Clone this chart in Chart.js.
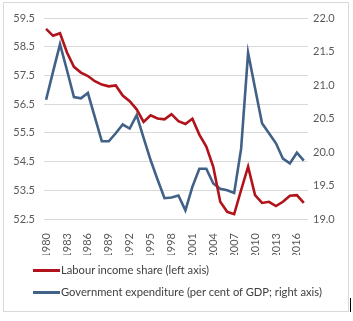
<!DOCTYPE html>
<html>
<head>
<meta charset="utf-8">
<script src="https://cdn.jsdelivr.net/npm/chart.js@4"></script>
<style>
  html, body { margin: 0; padding: 0; background: #fff; }
  #wrap { position: relative; width: 353px; height: 321px; overflow: hidden; }
  #frame { position: absolute; left: 3px; top: 2px; width: 344px; height: 308px; border: 1px solid #d9d9d9; }
  #chart { position: absolute; left: 0; top: 0; }
  .leg { position: absolute; left: 33px; font: 11.2px Lato, "Open Sans", sans-serif; color: #404040; white-space: nowrap; }
  .leg i { display: inline-block; width: 27px; height: 3px; vertical-align: middle; margin-right: 1px; position: relative; top: -1px; }
  #cursor { position: absolute; left: 350px; top: 298px; width: 1px; height: 14px; background: #000; }
</style>
</head>
<body>
<div id="wrap">
  <div id="frame"></div>
  <canvas id="chart" width="353" height="321"></canvas>
  <div class="leg" style="top:263px"><i style="background:#b2131b"></i>Labour income share (left axis)</div>
  <div class="leg" style="top:285px"><i style="background:#416187"></i>Government expenditure (per cent of GDP; right axis)</div>
  <div id="cursor"></div>
</div>
<script>
  var YEARS = [];
  for (var y = 1980; y <= 2017; y++) YEARS.push(y);

  // labour income share, % (left axis)
  var LABOUR = [59.12, 58.88, 58.97, 58.30, 57.80, 57.60, 57.48, 57.30, 57.18, 57.12,
                57.15, 56.80, 56.60, 56.32, 55.88, 56.11, 56.00, 55.97, 56.15, 55.91,
                55.81, 55.99, 55.44, 55.02, 54.32, 53.10, 52.75, 52.67, 53.51, 54.32,
                53.33, 53.06, 53.10, 52.95, 53.10, 53.31, 53.33, 53.06];

  // government expenditure, % of GDP (right axis)
  var GOVT = [20.78, 21.20, 21.61, 21.22, 20.82, 20.80, 20.88, 20.52, 20.16, 20.16,
              20.28, 20.41, 20.35, 20.55, 20.21, 19.88, 19.59, 19.31, 19.32, 19.35,
              19.13, 19.48, 19.75, 19.75, 19.53, 19.45, 19.43, 19.39, 20.05, 21.48,
              20.95, 20.43, 20.28, 20.13, 19.90, 19.83, 19.99, 19.87];

  var X_TICKS = [1980, 1983, 1986, 1989, 1992, 1995, 1998, 2001, 2004, 2007, 2010, 2013, 2016];
  var LEFT_TICKS = [52.5, 53.5, 54.5, 55.5, 56.5, 57.5, 58.5, 59.5];
  var RIGHT_TICKS = [19.0, 19.5, 20.0, 20.5, 21.0, 21.5, 22.0];

  function pts(vals) {
    return vals.map(function (v, i) { return { x: YEARS[i], y: v }; });
  }
  function fixedTicks(list) {
    return function (scale) { scale.ticks = list.map(function (v) { return { value: v }; }); };
  }

  var tickFont = { family: 'Lato, "Open Sans", sans-serif', size: 11 };

  new Chart(document.getElementById('chart').getContext('2d'), {
    type: 'line',
    data: {
      datasets: [
        {
          label: 'Labour income share (left axis)',
          data: pts(LABOUR),
          yAxisID: 'y',
          borderColor: '#b2131b',
          borderWidth: 2.6,
          pointRadius: 0,
          tension: 0
        },
        {
          label: 'Government expenditure (per cent of GDP; right axis)',
          data: pts(GOVT),
          yAxisID: 'y1',
          borderColor: '#416187',
          borderWidth: 2.6,
          pointRadius: 0,
          tension: 0
        }
      ]
    },
    options: {
      responsive: false,
      animation: false,
      layout: { padding: { top: 18, left: 0, right: 0, bottom: 66 } },
      plugins: { legend: { display: false }, tooltip: { enabled: false } },
      scales: {
        x: {
          type: 'linear',
          min: 1979.7,
          max: 2017.6,
          afterBuildTicks: fixedTicks(X_TICKS),
          afterFit: function (s) { s.height = 36; },
          grid: { display: false },
          border: { display: false },
          ticks: {
            minRotation: 90, maxRotation: 90, autoSkip: false, padding: 6,
            color: '#595959', font: tickFont,
            callback: function (v) { return String(v); }
          }
        },
        y: {
          position: 'left',
          min: 52.5, max: 59.5,
          afterBuildTicks: fixedTicks(LEFT_TICKS),
          afterFit: function (s) { s.width = 44; },
          grid: { color: '#d9d9d9', drawTicks: false },
          border: { display: false },
          ticks: { padding: 9, color: '#595959', font: tickFont,
                   callback: function (v) { return v.toFixed(1); } }
        },
        y1: {
          position: 'right',
          min: 19, max: 22,
          afterBuildTicks: fixedTicks(RIGHT_TICKS),
          afterFit: function (s) { s.width = 45; },
          grid: { display: false, drawTicks: false },
          border: { display: false },
          ticks: { padding: 5, color: '#595959', font: tickFont,
                   callback: function (v) { return v.toFixed(1); } }
        }
      }
    }
  });
</script>
</body>
</html>
